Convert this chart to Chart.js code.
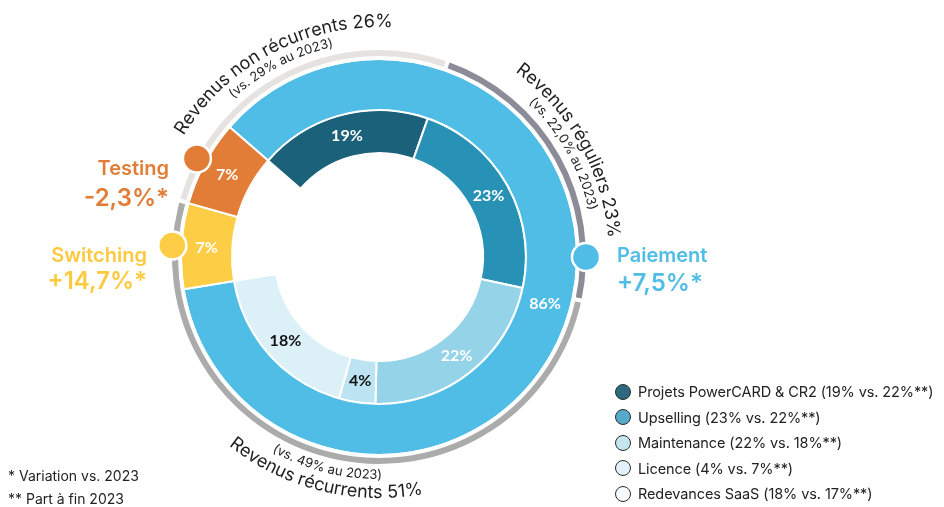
<!DOCTYPE html>
<html lang="fr">
<head>
<meta charset="utf-8">
<title>Répartition des revenus 2024</title>
<script src="https://cdn.jsdelivr.net/npm/chart.js@4.4.1/dist/chart.umd.min.js"></script>
<style>
  html, body { margin: 0; padding: 0; background: #fff; }
  body { width: 944px; height: 507px; position: relative; overflow: hidden; font-family: Inter, "Noto Sans", sans-serif; color: #222; }
  #revenueChart { position: absolute; left: 0; top: 0; }
  .notes { position: absolute; left: 8px; top: 464px; font-size: 14px; line-height: 23px; color: #222; }
  .legend { position: absolute; left: 615px; top: 379px; font-size: 14.5px; letter-spacing: -0.1px; color: #222; }
  .legend .row { height: 25.5px; display: flex; align-items: center; white-space: nowrap; }
  .legend .dot { width: 14px; height: 14px; border-radius: 50%; border: 1.5px solid #2b2b2b; margin-right: 7px; flex: none; }
</style>
</head>
<body>
<canvas id="revenueChart" width="944" height="507"></canvas>
<div class="legend" id="legend"></div>
<div class="notes" id="notes"></div>
<script>
// activités (anneau extérieur)
const outerLabels = ["Paiement", "Switching", "Testing"];
const outerValues = [86, 7, 7];
const outerVariation = ["+7,5%*", "+14,7%*", "-2,3%*"];

// détail Paiement (anneau intérieur)
const innerLabels = ["Projets PowerCARD & CR2", "Upselling", "Maintenance", "Licence", "Redevances SaaS"];
const innerValues = [19, 23, 22, 4, 18];
const innerPrev = [22, 22, 18, 7, 17];

// nature des revenus (arc fin)
const revenueLabels = ["Revenus non récurrents", "Revenus réguliers", "Revenus récurrents"];
const revenueValues = [26, 23, 51];
const revenuePrev = ["29%", "22,0%", "49%"];

const notes = ["* Variation vs. 2023", "** Part à fin 2023"];

const outerColors = ["#4fbde6", "#fecd46", "#e27d38"];
const innerColors = ["#1b6179", "#2891b6", "#95d3e8", "#bde4f2", "#dcf0f8"];
const innerText = ["#fff", "#fff", "#fff", "#111", "#111"];
const legendColors = ["#2d6a80", "#56a9c9", "#c5e6f1", "#e3f2f8", "#f8fbfd"];
const revenueColors = ["#e6e2e0", "#8c8c99", "#ababab"];

const startAngle = -49; // début du segment Paiement
const outerTotal = outerValues.reduce((a, b) => a + b, 0);
const innerTotal = innerValues.reduce((a, b) => a + b, 0);
const testingSweep = 360 * outerValues[2] / outerTotal;

// positions des titres d'activité
const titlePos = [
  { x: 617, y1: 262, y2: 291, align: "left" },
  { x: 147, y1: 262, y2: 289, align: "right" },
  { x: 169, y1: 175, y2: 206, align: "right" }
];

function arcText(ctx, text, cx, cy, r, mid, outward) {
  const chars = [...text];
  const widths = chars.map(ch => ctx.measureText(ch).width);
  const sum = widths.reduce((a, b) => a + b, 0);
  const scale = ctx.measureText(text).width / sum;
  const span = sum * scale / r;
  let a = outward ? mid - span / 2 : mid + span / 2;
  chars.forEach((ch, k) => {
    const half = widths[k] * scale / 2 / r;
    a += outward ? half : -half;
    ctx.save();
    ctx.translate(cx + r * Math.cos(a), cy + r * Math.sin(a));
    ctx.rotate(outward ? a + Math.PI / 2 : a - Math.PI / 2);
    ctx.fillText(ch, 0, 0);
    ctx.restore();
    a += outward ? half : -half;
  });
}

const annotations = {
  id: "annotations",
  afterDatasetsDraw(chart) {
    const ctx = chart.ctx;
    const revMeta = chart.getDatasetMeta(0);
    const outMeta = chart.getDatasetMeta(2);
    const inMeta = chart.getDatasetMeta(3);
    const cx = outMeta.data[0].x;
    const cy = outMeta.data[0].y;
    ctx.save();

    // pourcentages dans les segments
    ctx.font = "bold 16px Lato";
    ctx.textAlign = "center";
    ctx.textBaseline = "middle";
    outMeta.data.forEach((arc, i) => {
      const p = arc.tooltipPosition();
      ctx.fillStyle = "#fff";
      ctx.fillText(outerValues[i] + "%", p.x, p.y);
    });
    inMeta.data.forEach((arc, i) => {
      const p = arc.tooltipPosition();
      ctx.fillStyle = innerText[i];
      ctx.fillText(innerValues[i] + "%", p.x, p.y);
    });

    // textes courbes
    ctx.textAlign = "center";
    ctx.textBaseline = "alphabetic";
    revMeta.data.forEach((arc, i) => {
      const mid = (arc.startAngle + arc.endAngle) / 2;
      const outward = Math.sin(mid) < 0.3;
      ctx.fillStyle = "#1e1e1e";
      ctx.font = "18px Inter";
      arcText(ctx, revenueLabels[i] + " " + revenueValues[i] + "%", cx, cy, outward ? 230 : 241, mid, outward);
      ctx.font = "13px Inter";
      arcText(ctx, "(vs. " + revenuePrev[i] + " au 2023)", cx, cy, outward ? 215 : 222, mid, outward);
    });

    // pastilles et titres des activités
    outMeta.data.forEach((arc, i) => {
      const a = i === 0 ? 0 : (arc.startAngle + arc.endAngle) / 2;
      const px = cx + 207 * Math.cos(a);
      const py = cy + 207 * Math.sin(a);
      ctx.beginPath();
      ctx.arc(px, py, 14, 0, Math.PI * 2);
      ctx.fillStyle = outerColors[i];
      ctx.fill();
      ctx.lineWidth = 2.5;
      ctx.strokeStyle = "#fff";
      ctx.stroke();

      const t = titlePos[i];
      ctx.textAlign = t.align;
      ctx.fillStyle = i === 1 ? "#fdca3f" : outerColors[i];
      ctx.font = "600 20px Inter";
      ctx.fillText(outerLabels[i], t.x, t.y1);
      ctx.font = "600 24px Inter";
      ctx.fillText(outerVariation[i], t.x, t.y2);
    });
    ctx.restore();
  }
};

new Chart(document.getElementById("revenueChart"), {
  type: "doughnut",
  data: {
    datasets: [
      {
        label: "Nature des revenus",
        data: revenueValues,
        backgroundColor: revenueColors,
        borderColor: "#fff",
        borderWidth: 4,
        hoverBorderWidth: 4,
        weight: 10,
        rotation: startAngle - testingSweep
      },
      { label: "espace", data: [], weight: 1 },
      {
        label: "Activités",
        data: outerValues,
        backgroundColor: outerColors,
        borderColor: "#fff",
        borderWidth: 2,
        hoverBorderWidth: 2,
        weight: 51,
        rotation: startAngle
      },
      {
        label: "Paiement",
        data: innerValues,
        backgroundColor: innerColors,
        borderColor: "#fff",
        borderWidth: 2,
        hoverBorderWidth: 2,
        weight: 43,
        rotation: startAngle,
        circumference: 360 * innerTotal / outerTotal
      }
    ]
  },
  options: {
    responsive: false,
    animation: false,
    events: [],
    cutout: "49.76%",
    layout: { padding: { left: 168, top: 46, right: 354, bottom: 39 } },
    plugins: {
      legend: { display: false },
      tooltip: { enabled: false }
    }
  },
  plugins: [annotations]
});

const legend = document.getElementById("legend");
innerLabels.forEach((name, i) => {
  const row = document.createElement("div");
  row.className = "row";
  row.innerHTML = `<span class="dot" style="background:${legendColors[i]}"></span>` +
    `<span>${name.replace("&", "&amp;")} (${innerValues[i]}% vs. ${innerPrev[i]}%**)</span>`;
  legend.appendChild(row);
});
document.getElementById("notes").innerHTML = notes.map(n => `<div>${n}</div>`).join("");
</script>
</body>
</html>
